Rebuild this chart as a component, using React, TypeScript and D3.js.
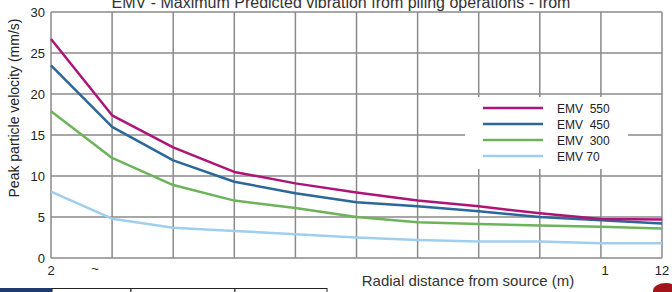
import React from 'react';
import * as d3 from 'd3';

const distances = [2, 3, 4, 5, 6, 7, 8, 9, 10, 11, 12];
const emv550 = [26.7, 17.4, 13.5, 10.5, 9.1, 8.0, 7.0, 6.3, 5.45, 4.75, 4.7];
const emv450 = [23.5, 16.0, 11.9, 9.3, 7.9, 6.8, 6.3, 5.7, 5.0, 4.6, 4.2];
const emv300 = [17.9, 12.2, 8.9, 7.0, 6.1, 5.0, 4.35, 4.15, 3.95, 3.8, 3.6];
const emv70 = [8.1, 4.8, 3.7, 3.3, 2.9, 2.5, 2.2, 2.0, 2.0, 1.8, 1.8];

const seriesNames = ['EMV  550', 'EMV  450', 'EMV  300', 'EMV 70'];
const seriesColors = ['#ad1478', '#2c679a', '#6cb35a', '#9fcfee'];

const yTicks = [0, 5, 10, 15, 20, 25, 30];
// odd tick labels as printed on the original
const xTickValues = [2, 2.72, 11.07, 12];
const xTickLabels = ['2', '~', '1', '12'];

const title = 'EMV - Maximum Predicted vibration from piling operations - from';
const xTitle = 'Radial distance from source (m)';
const yTitle = 'Peak particle velocity (mm/s)';

const W = 672;
const H = 292;
const font = '"Liberation Sans", Arial, sans-serif';

export default function App() {
  const x = d3.scaleLinear().domain([2, 12]).range([51, 662]);
  const y = d3.scaleLinear().domain([0, 30]).range([258, 12]);

  const series = [emv550, emv450, emv300, emv70];
  const line = d3
    .line<number>()
    .x((_, i) => x(distances[i]))
    .y((d) => y(d));

  // legend box sits over the grid
  const lg = { x: 465, y: 97, w: 163, h: 72 };

  return (
    <svg
      width={W}
      height={H}
      style={{ position: 'absolute', left: 0, top: 0, background: '#fff' }}
      fontFamily={font}
    >
      <rect width={W} height={H} fill="#fff" />

      {/* grid */}
      {distances.map((d) => (
        <line key={'v' + d} x1={x(d)} x2={x(d)} y1={y(30)} y2={y(0)} stroke="#8a8a8a" strokeWidth={1.5} />
      ))}
      {yTicks.map((t) => (
        <line key={'h' + t} x1={x(2)} x2={x(12)} y1={y(t)} y2={y(t)} stroke="#8a8a8a" strokeWidth={1.5} />
      ))}

      {/* legend background */}
      <rect x={lg.x} y={lg.y} width={lg.w} height={lg.h} fill="#fff" />

      {/* series, drawn back to front */}
      {series
        .map((s, i) => ({ s, i }))
        .reverse()
        .map(({ s, i }) => (
          <path key={i} d={line(s) || ''} fill="none" stroke={seriesColors[i]} strokeWidth={2.5} strokeLinejoin="round" />
        ))}

      {/* legend */}
      {seriesNames.map((n, i) => (
        <g key={n} transform={`translate(483,${108 + i * 16})`}>
          <line x1={0} x2={60} y1={0} y2={0} stroke={seriesColors[i]} strokeWidth={2.5} />
          <text x={74} y={4.5} fontSize={12} fill="#222" style={{ whiteSpace: 'pre' }}>
            {n}
          </text>
        </g>
      ))}

      {/* y ticks */}
      {yTicks.map((t) => (
        <text key={'yt' + t} x={45} y={y(t) + 4.5} fontSize={13} textAnchor="end" fill="#222">
          {t}
        </text>
      ))}

      {/* x ticks */}
      {xTickValues.map((v, i) => (
        <text key={'xt' + i} x={x(v)} y={i === 1 ? 273 : 275} fontSize={13} textAnchor="middle" fill="#222">
          {xTickLabels[i]}
        </text>
      ))}

      {/* titles */}
      <text x={341} y={7.5} fontSize={16} textAnchor="middle" fill="#333">
        {title}
      </text>
      <text x={468} y={286} fontSize={15} textAnchor="middle" fill="#333">
        {xTitle}
      </text>
      <text transform="translate(19,108) rotate(-90)" fontSize={14} textAnchor="middle" fill="#222">
        {yTitle}
      </text>

      {/* cropped page remnants along the bottom */}
      <rect x={0} y={288} width={52} height={6} fill="#1f3a6e" />
      <rect x={52} y={288.5} width={79} height={6} fill="#fff" stroke="#222" strokeWidth={1} />
      <rect x={131} y={288.5} width={104} height={6} fill="#fff" stroke="#222" strokeWidth={1} />
      <rect x={235} y={288.5} width={92} height={6} fill="#fff" stroke="#222" strokeWidth={1} />
      <ellipse cx={666} cy={291} rx={13} ry={8} fill="#a3141a" />
    </svg>
  );
}
